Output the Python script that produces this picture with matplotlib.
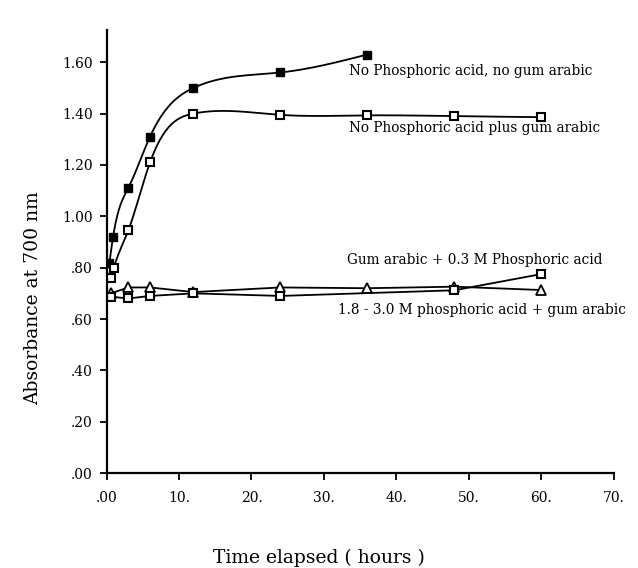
import matplotlib.pyplot as plt
import numpy as np

plt.rcParams['font.family'] = ['DejaVu Serif']

# No phosphoric acid, no gum arabic (filled squares)
t_none = [0.4, 0.9, 3, 6, 12, 24, 36]
a_none = [0.82, 0.92, 1.11, 1.31, 1.50, 1.56, 1.63]

# No phosphoric acid plus gum arabic (open squares)
t_gum = [0.6, 1.0, 3, 6, 12, 24, 36, 48, 60]
a_gum = [0.76, 0.80, 0.945, 1.21, 1.40, 1.395, 1.393, 1.39, 1.386]

# Gum arabic + 0.3 M phosphoric acid (open squares)
t_03 = [0.6, 3, 6, 12, 24, 48, 60]
a_03 = [0.687, 0.68, 0.69, 0.70, 0.69, 0.712, 0.775]

# 1.8 - 3.0 M phosphoric acid + gum arabic (triangles)
t_18 = [0.6, 3, 6, 12, 24, 36, 48, 60]
a_18 = [0.70, 0.723, 0.723, 0.705, 0.723, 0.72, 0.726, 0.713]

xticks = [0, 10, 20, 30, 40, 50, 60, 70]
xlabels = ['.00', '10.', '20.', '30.', '40.', '50.', '60.', '70.']
yticks = [0, 0.2, 0.4, 0.6, 0.8, 1.0, 1.2, 1.4, 1.6]
ylabels = ['.00', '.20', '.40', '.60', '.80', '1.00', '1.20', '1.40', '1.60']


def smooth(x, y, n=300):
    # natural cubic spline, drawn like the hand-smoothed curves of the original
    x = np.asarray(x, float)
    y = np.asarray(y, float)
    h = np.diff(x)
    m = len(x)
    A = np.zeros((m, m))
    b = np.zeros(m)
    A[0, 0] = A[-1, -1] = 1
    for i in range(1, m - 1):
        A[i, i - 1] = h[i - 1]
        A[i, i] = 2 * (h[i - 1] + h[i])
        A[i, i + 1] = h[i]
        b[i] = 6 * ((y[i + 1] - y[i]) / h[i] - (y[i] - y[i - 1]) / h[i - 1])
    M = np.linalg.solve(A, b)
    xs = np.linspace(x[0], x[-1], n)
    k = np.clip(np.searchsorted(x, xs) - 1, 0, m - 2)
    dx = xs - x[k]
    hk = h[k]
    ys = (M[k] * (x[k + 1] - xs) ** 3 / (6 * hk) + M[k + 1] * dx ** 3 / (6 * hk)
          + (y[k] / hk - M[k] * hk / 6) * (x[k + 1] - xs)
          + (y[k + 1] / hk - M[k + 1] * hk / 6) * dx)
    return xs, ys


fig = plt.figure(figsize=(6.38, 5.68), dpi=100)
ax = fig.add_axes([0.167, 0.167, 0.795, 0.78])

xs, ys = smooth(t_none, a_none)
ax.plot(xs, ys, color='black', lw=1.3)
ax.plot(t_none, a_none, 's', color='black', ms=5.8, mfc='black', mec='black')

xs, ys = smooth(t_gum, a_gum)
ax.plot(xs, ys, color='black', lw=1.3)
ax.plot(t_gum, a_gum, 's', color='black', ms=5.8, mfc='white', mec='black', mew=1.5)

ax.plot(t_18, a_18, '^', ls='-', color='black', lw=1.3, ms=6.5, mfc='white', mec='black', mew=1.3)
ax.plot(t_03, a_03, 's', ls='-', color='black', lw=1.3, ms=5.8, mfc='white', mec='black', mew=1.5)

fs = 9.8
ax.text(33.5, 1.565, 'No Phosphoric acid, no gum arabic', fontsize=fs, va='center')
ax.text(33.4, 1.345, 'No Phosphoric acid plus gum arabic', fontsize=fs, va='center')
ax.text(33.2, 0.83, 'Gum arabic + 0.3 M Phosphoric acid', fontsize=fs, va='center')
ax.text(32.0, 0.635, '1.8 - 3.0 M phosphoric acid + gum arabic', fontsize=fs, va='center')

ax.set_xlim(0, 70)
ax.set_ylim(0, 1.725)
ax.set_xticks(xticks)
ax.set_xticklabels(xlabels, fontsize=10)
ax.set_yticks(yticks)
ax.set_yticklabels(ylabels, fontsize=10)
ax.tick_params(direction='out', length=5, width=1.3)
ax.tick_params(axis='x', pad=8)
ax.tick_params(axis='y', pad=5)
for s in ['top', 'right']:
    ax.spines[s].set_visible(False)
for s in ['left', 'bottom']:
    ax.spines[s].set_linewidth(1.6)

fig.text(0.052, 0.475, 'Absorbance at 700 nm', fontsize=13.5, rotation=90,
         ha='center', va='center')
fig.text(0.5, 0.017, 'Time elapsed ( hours )', fontsize=13.5, ha='center', va='center')

fig.savefig('out.png')
